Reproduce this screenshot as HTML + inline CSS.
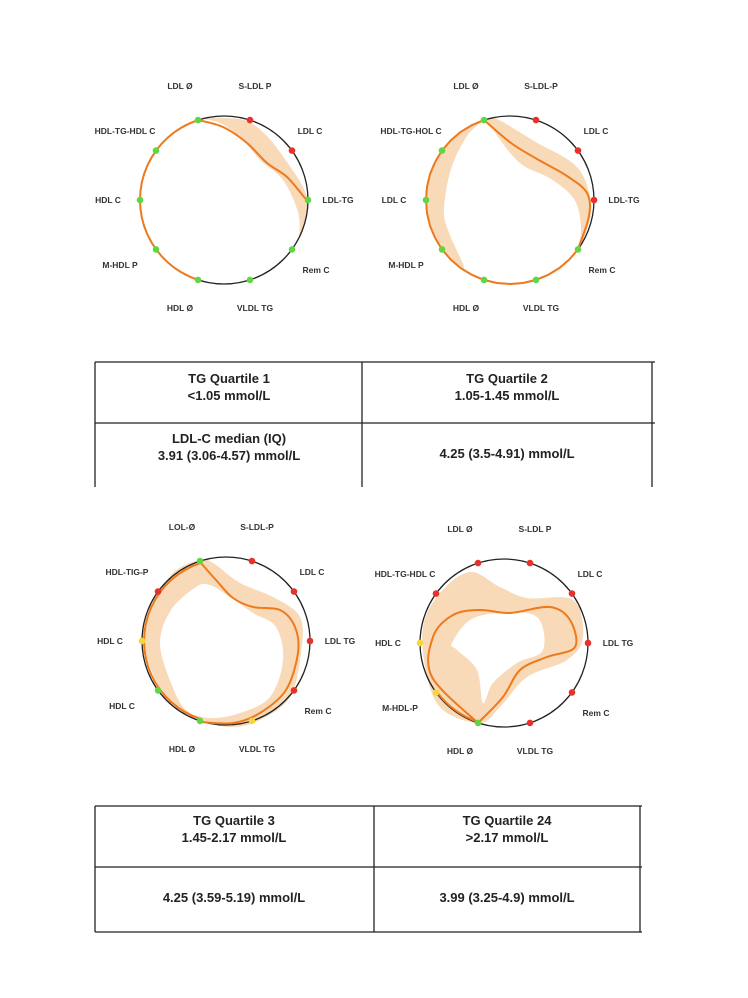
<!DOCTYPE html>
<html><head><meta charset="utf-8">
<style>
body{margin:0;background:#fff;width:748px;height:998px;overflow:hidden;font-family:"Liberation Sans",sans-serif}
svg{position:absolute;left:0;top:0}
</style></head><body>
<svg id="s" width="748" height="998" xmlns="http://www.w3.org/2000/svg"></svg>
<script>
const S=document.getElementById('s');
const R=84, ORG='#ee7a1e', BAND='#f8d9b8';
function cr(pts,closed){
  let n=pts.length,d='M'+pts[0][0]+' '+pts[0][1];
  const g=i=>closed?pts[(i+n)%n]:pts[Math.max(0,Math.min(n-1,i))];
  const m=closed?n:n-1;
  for(let i=0;i<m;i++){
    const p0=g(i-1),p1=g(i),p2=g(i+1),p3=g(i+2);
    const c1=[p1[0]+(p2[0]-p0[0])/6,p1[1]+(p2[1]-p0[1])/6];
    const c2=[p2[0]-(p3[0]-p1[0])/6,p2[1]-(p3[1]-p1[1])/6];
    d+=` C${c1[0].toFixed(1)} ${c1[1].toFixed(1)} ${c2[0].toFixed(1)} ${c2[1].toFixed(1)} ${p2[0]} ${p2[1]}`;
  }
  return d+(closed?'Z':'');
}
function arcPts(a0,a1,r){let p=[];const st=(a1-a0)/24;for(let i=0;i<=24;i++){const a=(a0+st*i)*Math.PI/180;p.push([+(r*Math.cos(a)).toFixed(1),+(r*Math.sin(a)).toFixed(1)]);}return p;}
function arcD(a0,a1,r){const p=arcPts(a0,a1,r);return 'M'+p.map(q=>q.join(' ')).join(' L');}
const labels=[["LDL Ø",-44,-114],["S-LDL P",31,-114],["LDL C",86,-69],["LDL-TG",114,0],["Rem C",92,70],["VLDL TG",31,108],["HDL Ø",-44,108],["M-HDL P",-104,65],["HDL C",-116,0],["HDL-TG-HDL C",-99,-69]];
const C={G:'#5fd644',R:'#e8312a',Y:'#f5d73a'};
function chart(cx,cy,cols,labs,draw){
  let h=`<g transform="translate(${cx},${cy})">`;
  h+=draw.band;
  h+=`<circle r="${R}" fill="none" stroke="#222" stroke-width="1.3"/>`;
  h+=draw.line;
  for(let k=0;k<10;k++){const a=(-108+36*k)*Math.PI/180;
    h+=`<circle cx="${(R*Math.cos(a)).toFixed(1)}" cy="${(R*Math.sin(a)).toFixed(1)}" r="3.3" fill="${C[cols[k]]}"/>`;}
  labels.forEach((l,i)=>{h+=`<text x="${l[1]}" y="${l[2]+3}" text-anchor="middle" font-size="8.5" font-weight="bold" fill="#333">${labs?labs[i]:l[0]}</text>`;});
  S.innerHTML+=h+'</g>';
}
const ln=d=>`<path d="${d}" fill="none" stroke="${ORG}" stroke-width="2"/>`;
const bd=(d,ev)=>`<path d="${d}" fill="${BAND}" ${ev?'fill-rule="evenodd"':''} stroke="none"/>`;
// Q1
chart(224,200,"GRRGGGGGGG",null,{
 band:bd(cr([[-24,-82],[0,-82],[23,-79],[43,-64],[63,-38],[79,-13],[84,5],[80,25],[76,37],[74,12],[59,-20],[36,-40],[16,-63],[-4,-77]],true)),
 line:ln(arcD(-108,-252,R))+ln(cr([[-26,-80],[-1,-73],[23,-57],[43,-37],[63,-23],[81,-2],[84,0]],false))
});
// Q2
chart(510,200,"GRRRGGGGGG",["LDL Ø","S-LDL-P","LDL C","LDL-TG","Rem C","VLDL TG","HDL Ø","M-HDL P","LDL C","HDL-TG-HOL C"],{
 band:bd(cr([[-24,-81],[-13,-81],[24,-59],[67,-33],[81,3],[77,29],[69,49],[71,26],[64,-1],[41,-21],[14,-34],[-3,-51],[-22,-78]],true))+
  bd(arcD(-108,-236,83)+' '+cr([[-46,66],[-62,30],[-66,9],[-59,-31],[-43,-64],[-26,-80]],false).replace('M','L')+'Z'),
 line:ln(arcD(36,252,R))+ln(cr([[-26,-80],[1,-57],[27,-41],[57,-24],[77,-7],[79,16],[68,49]],false))
});
// Q3
chart(226,641,"GRRRRYGGYR",["LOL-Ø","S-LDL-P","LDL C","LDL TG","Rem C","VLDL TG","HDL Ø","HDL C","HDL C","HDL-TIG-P"],{
 band:bd(cr([[-26,-81],[-13,-78],[14,-58],[47,-44],[74,-24],[75,12],[64,56],[34,79],[7,86],[-26,79],[-60,56],[-81,9],[-76,-31],[-53,-68]],true)+' '+
  cr([[-66,2],[-55,-31],[-30,-54],[-16,-56],[4,-44],[27,-28],[50,-14],[57,19],[44,56],[14,72],[-16,77],[-40,69],[-55,42]],true),true),
 line:ln(cr([[-26,-79],[-10,-61],[7,-43],[27,-34],[54,-31],[69,-14],[72,12],[60,49],[34,72],[7,82],[-26,81]],false))+ln(arcD(108,252,82))
});
// Q4
chart(504,643,"RRRRRRGYYR",["LDL Ø","S-LDL P","LDL C","LDL TG","Rem C","VLDL TG","HDL Ø","M-HDL-P","HDL C","HDL-TG-HDL C"],{
 band:bd(cr([[-64,-50],[-34,-71],[-4,-56],[23,-45],[69,-43],[79,-6],[63,17],[23,34],[-4,64],[-24,80],[-61,67],[-77,34],[-81,-16]],true)+' '+
  cr([[-52,0],[-34,-23],[-4,-30],[33,-26],[39,7],[13,20],[-11,40],[-21,60],[-27,27],[-47,7]],true),true),
 line:ln(cr([[-26,80],[-72,34],[-71,-6],[-51,-28],[-24,-33],[6,-30],[46,-36],[66,-23],[71,4],[43,14],[16,27],[-1,54],[-26,80]],false))+ln(arcD(144,108,83))
});
// tables
let t='';
const L=(x1,y1,x2,y2)=>t+=`<line x1="${x1}" y1="${y1}" x2="${x2}" y2="${y2}" stroke="#222" stroke-width="1.3"/>`;
const T=(x,y,s)=>t+=`<text x="${x}" y="${y}" text-anchor="middle" font-size="13" font-weight="bold" fill="#222">${s}</text>`;
L(95,362,655,362);L(95,423,655,423);L(95,362,95,487);L(362,362,362,487);L(652,362,652,487);
T(229,383,"TG Quartile 1");T(229,400,"&lt;1.05 mmol/L");T(507,383,"TG Quartile 2");T(507,400,"1.05-1.45 mmol/L");
T(229,443,"LDL-C median (IQ)");T(229,460,"3.91 (3.06-4.57) mmol/L");T(507,458,"4.25 (3.5-4.91) mmol/L");
L(95,806,642,806);L(95,867,642,867);L(95,932,642,932);L(95,806,95,932);L(374,806,374,932);L(640,806,640,932);
T(234,825,"TG Quartile 3");T(234,842,"1.45-2.17 mmol/L");T(507,825,"TG Quartile 24");T(507,842,"&gt;2.17 mmol/L");
T(234,902,"4.25 (3.59-5.19) mmol/L");T(507,902,"3.99 (3.25-4.9) mmol/L");
S.innerHTML+=t;
</script>
</body></html>
